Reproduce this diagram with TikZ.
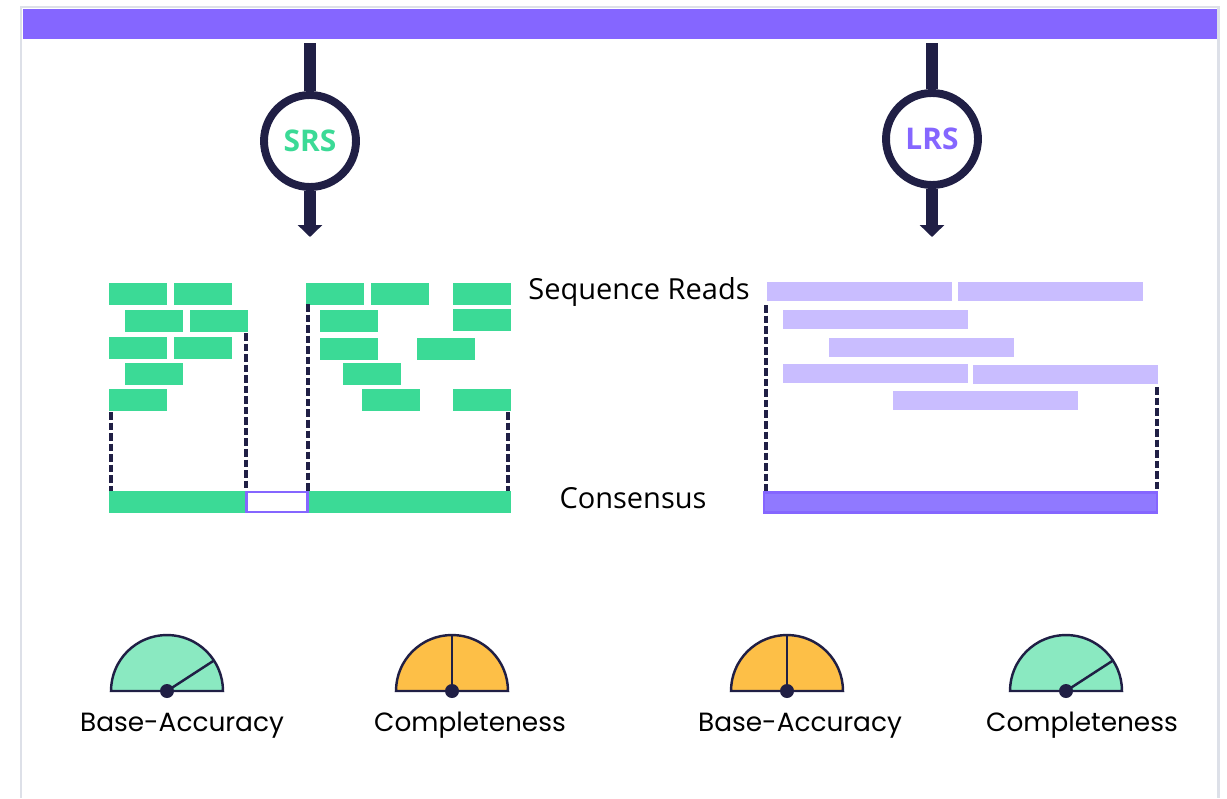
\documentclass[tikz,border=0pt]{standalone}
\usepackage{fontspec}
\setmainfont{Open Sans}
\newfontfamily\gaugefont{Poppins}
\usepackage{xcolor}
\usepackage{tikz}
\usetikzlibrary{positioning, arrows.meta, calc}
\definecolor{ink}{HTML}{201F45}
\definecolor{violet}{HTML}{8566FF}
\definecolor{mint}{HTML}{3BDA96}
\definecolor{palemint}{HTML}{8AE9C1}
\definecolor{lilac}{HTML}{C9BDFF}
\definecolor{amber}{HTML}{FDBF47}
\definecolor{consens}{HTML}{9079FF}
\definecolor{frame}{HTML}{DDE0E8}

\begin{document}
\begin{tikzpicture}[x=0.02cm, y=-0.02cm,
  tech/.style={circle,draw=ink,line width=4.5pt,fill=white,inner sep=0pt,
               minimum size=1.84cm,font=\bfseries\fontsize{17}{20}\selectfont},
  stem/.style={draw=ink,line width=6.8pt},
  lbl/.style={anchor=base,font=\fontsize{16.5}{20}\selectfont},
  glbl/.style={anchor=base,font=\gaugefont\fontsize{15}{18}\selectfont},
  gap/.style={draw=ink,line width=1.8pt,dash pattern=on 4.3pt off 1.7pt},
  gauge/.style={draw=ink,line width=1.4pt},
  >=Stealth]
  \useasboundingbox (0,0) rectangle (1227,798);
  % frame and top bar
  \draw[frame,line width=1.7pt] (21,798) -- (21,7) -- (1218,7) -- (1218,798);
  \fill[violet] (23,9) rectangle (1217,39);

  % sequencing technologies
  \node[tech,text=mint] (S) at (310,141) {SRS};
  \node[tech,text=violet] (L) at (932,139) {LRS};
  \coordinate (Sin) at (310,43);  \coordinate (Sout) at (310,237);
  \coordinate (Lin) at (932,43);  \coordinate (Lout) at (932,237);
  \draw[stem] (Sin) -- (S.north);
  \draw[stem,-{Triangle[width=13.6pt,length=6.8pt]}] (S.south) -- (Sout);
  \draw[stem] (Lin) -- (L.north);
  \draw[stem,-{Triangle[width=13.6pt,length=6.8pt]}] (L.south) -- (Lout);

  % short reads
  \foreach \x/\y in {109/283,174/283,306/283,371/283,453/283,
                     125/310,190/310,320/310,453/309,
                     109/337,174/337,320/338,417/338,
                     125/363,343/363,
                     109/389,362/389,453/389}
    \fill[mint] (\x,\y) rectangle ++(58,22);
  % long reads
  \foreach \x/\y in {767/282,958/282,783/310,829/338,783/364,973/365,893/391}
    \fill[lilac] (\x,\y) rectangle ++(185,19);

  % consensus
  \fill[mint] (109,491) rectangle (246,513);
  \fill[mint] (308,491) rectangle (511,513);
  \draw[violet,line width=1.2pt,fill=white] (246.5,492) rectangle (307.5,512);
  \draw[violet,line width=1.2pt,fill=consens] (764,492.5) rectangle (1157,512.5);

  % read boundaries
  \foreach \x/\y in {111/412,246/333,308/304,508/412,766/305,1157/387}
    \draw[gap] (\x,\y) -- (\x,491);

  \node[lbl] (R) at (639,299) {Sequence Reads};
  \node[lbl] (C) at (633,508) {Consensus};

  % gauges
  \foreach \cx/\col/\ang in {167/palemint/33,452/amber/90,787/amber/90,1066/palemint/33}{
    \filldraw[gauge,fill=\col] (\cx,691) ++(1.12cm,0)
      arc[start angle=0,end angle=180,radius=1.12cm] -- cycle;
    \draw[gauge] (\cx,691) -- ++(\ang:1.12cm);
    \fill[ink] (\cx,691) circle[radius=0.14cm];
  }
  \node[glbl] (SA) at (182,731) {Base-Accuracy};
  \node[glbl] (SC) at (470,731) {Completeness};
  \node[glbl] (LA) at (800,731) {Base-Accuracy};
  \node[glbl] (LC) at (1082,731) {Completeness};
\end{tikzpicture}
\end{document}
